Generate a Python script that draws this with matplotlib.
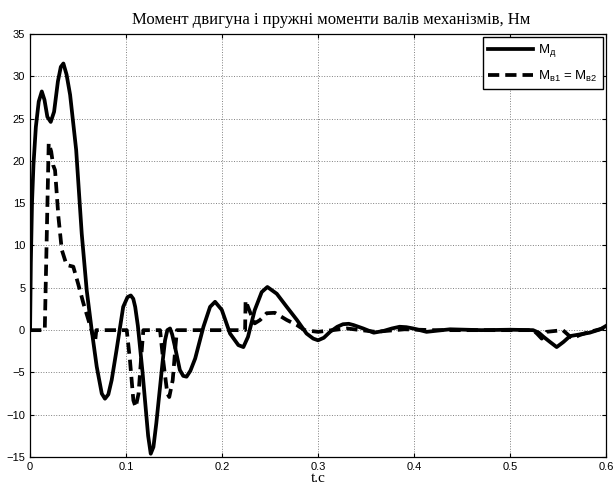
import matplotlib
matplotlib.use("Agg")
import matplotlib.pyplot as plt

# M_d (motor torque)
t_m = [0.0, 0.0008, 0.002, 0.0035, 0.006, 0.009, 0.0122, 0.015, 0.018, 0.0215,
       0.025, 0.029, 0.032, 0.0347, 0.038, 0.0417, 0.045, 0.048, 0.0538, 0.059,
       0.0642, 0.0694, 0.0747, 0.078, 0.0815, 0.085, 0.090, 0.097, 0.1015, 0.1049,
       0.1075, 0.1095, 0.1123, 0.117, 0.123, 0.1257, 0.1285, 0.1315, 0.1354, 0.138,
       0.1406, 0.143, 0.1458, 0.148, 0.151, 0.156, 0.1595, 0.163, 0.167, 0.172,
       0.1806, 0.1875, 0.1927, 0.1997, 0.2083, 0.217, 0.2222, 0.227, 0.234, 0.2413,
       0.2472, 0.257, 0.2674, 0.278, 0.288, 0.295, 0.300, 0.306, 0.3125, 0.32,
       0.326, 0.332, 0.337, 0.347, 0.358, 0.368, 0.377, 0.385, 0.392, 0.399,
       0.413, 0.425, 0.4375, 0.47, 0.50, 0.524, 0.53, 0.535, 0.5417, 0.5486,
       0.5556, 0.5625, 0.573, 0.583, 0.594, 0.6]
m_d = [0.0, 8.0, 15.0, 19.5, 24.0, 27.0, 28.2, 27.2, 25.2, 24.6,
       25.8, 29.4, 31.1, 31.5, 30.2, 27.8, 24.4, 21.3, 11.4, 4.7,
       0.0, -4.3, -7.5, -8.1, -7.6, -5.9, -2.4, 2.75, 3.9, 4.1,
       3.7, 2.75, 0.5, -4.8, -12.5, -14.6, -13.8, -11.0, -6.7, -3.8,
       -1.2, 0.0, 0.2, -0.5, -2.0, -4.7, -5.4, -5.5, -4.8, -3.35,
       0.4, 2.75, 3.35, 2.4, -0.4, -1.77, -2.0, -0.8, 2.36, 4.5,
       5.1, 4.3, 2.75, 1.2, -0.4, -1.0, -1.2, -0.9, -0.2, 0.4,
       0.7, 0.75, 0.6, 0.2, -0.3, -0.1, 0.2, 0.4, 0.35, 0.2,
       -0.2, -0.05, 0.1, 0.0, 0.05, 0.0, -0.3, -0.8, -1.4, -2.0,
       -1.4, -0.7, -0.5, -0.3, 0.1, 0.5]

# M_v1 = M_v2 (shaft elastic torques)
t_v = [0.0, 0.0135, 0.0153, 0.0194, 0.022, 0.024, 0.026, 0.0295, 0.033, 0.038,
       0.045, 0.050, 0.0556, 0.0608, 0.066, 0.0677, 0.069, 0.1007, 0.104, 0.1076,
       0.110, 0.113, 0.116, 0.118, 0.1354, 0.139, 0.143, 0.145, 0.1486, 0.1517,
       0.153, 0.224, 0.2245, 0.227, 0.231, 0.234, 0.2396, 0.2465, 0.255, 0.2674,
       0.278, 0.286, 0.30, 0.33, 0.36, 0.39, 0.42, 0.524, 0.528, 0.533,
       0.538, 0.555, 0.565, 0.572, 0.58, 0.59, 0.6]
m_v = [0.0, 0.0, 0.0, 22.1, 21.1, 19.5, 18.9, 13.4, 9.5, 7.7,
       7.5, 5.5, 3.15, 1.2, -0.8, -1.4, 0.0, 0.0, -3.5, -8.3,
       -9.1, -7.5, -2.8, 0.0, 0.0, -3.9, -7.5, -7.9, -5.9, -1.6,
       0.0, 0.0, 3.5, 2.75, 1.6, 0.8, 1.2, 2.0, 2.05, 1.2,
       0.6, 0.0, -0.2, 0.2, -0.2, 0.1, 0.0, 0.0, -0.4, -1.0,
       -0.2, 0.0, -1.0, -0.6, -0.3, 0.0, 0.3]

x_ticks = [0, 0.1, 0.2, 0.3, 0.4, 0.5, 0.6]
x_labels = ["0", "0.1", "0.2", "0.3", "0.4", "0.5", "0.6"]
y_ticks = [-15, -10, -5, 0, 5, 10, 15, 20, 25, 30, 35]

plt.rcParams["font.family"] = ["Liberation Sans", "DejaVu Sans"]
plt.rcParams["mathtext.fontset"] = "custom"
plt.rcParams["mathtext.rm"] = "Liberation Sans"
plt.rcParams["mathtext.it"] = "Liberation Sans"

fig = plt.figure(figsize=(6.14, 4.91), dpi=100)
ax = fig.add_axes([0.049, 0.069, 0.938, 0.862])

ax.plot(t_m, m_d, color="black", lw=2.7, solid_joinstyle="round",
        label=r"M$_{\mathrm{д}}$")
ax.plot(t_v, m_v, color="black", lw=2.7, dashes=(3, 1.6),
        label=r"M$_{\mathrm{в1}}$ = M$_{\mathrm{в2}}$")

ax.set_xlim(0, 0.6)
ax.set_ylim(-15, 35)
ax.set_xticks(x_ticks)
ax.set_xticklabels(x_labels)
ax.set_yticks(y_ticks)
ax.tick_params(direction="in", top=True, right=True, labelsize=8, length=3)
ax.grid(True, color="gray", linestyle=":", linewidth=0.7)
for s in ax.spines.values():
    s.set_linewidth(0.9)

ax.set_title("Момент двигуна і пружні моменти валів механізмів, Нм",
             family="Liberation Serif", fontsize=12, pad=7, x=0.523)
ax.set_xlabel("t.c", family="Liberation Serif", fontsize=11, labelpad=0)

leg = ax.legend(loc="upper right", fontsize=9.5, fancybox=False, framealpha=1,
                edgecolor="black", handlelength=3.4, borderaxespad=0.25,
                labelspacing=0.7, handletextpad=0.4)
leg.get_frame().set_linewidth(1.0)

fig.savefig("out.png", dpi=100)
